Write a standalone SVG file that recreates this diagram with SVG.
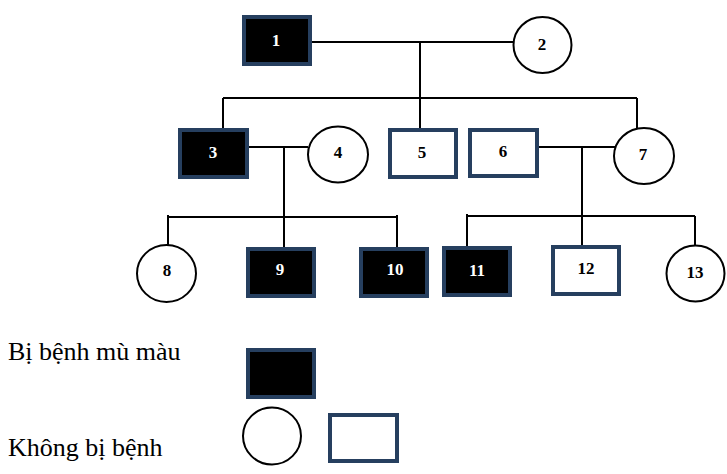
<svg xmlns="http://www.w3.org/2000/svg" width="727" height="474" viewBox="0 0 727 474">
<style>
.sq{stroke:#263f5f;stroke-width:4}
.aff{fill:#000}
.un{fill:#fff}
.ci{fill:#fff;stroke:#000;stroke-width:2}
.ln{stroke:#000;stroke-width:2;fill:none}
text{font-family:'Liberation Serif','Times New Roman','DejaVu Serif',serif}
.lb{font-weight:bold;font-size:17px;text-anchor:middle}
.w{fill:#fff}
.k{fill:#000}
.lg{font-size:26px;fill:#000}
</style>
<g id="connectors">
<path class="ln" d="M312 42H513"/>
<path class="ln" d="M420 42V98"/>
<path class="ln" d="M223 98H637"/>
<path class="ln" d="M223 98V128"/>
<path class="ln" d="M420 98V128"/>
<path class="ln" d="M637 98V129"/>
<path class="ln" d="M249 147H308"/>
<path class="ln" d="M284 147V247"/>
<path class="ln" d="M168 217H397"/>
<path class="ln" d="M168 215V245"/>
<path class="ln" d="M397 215V247"/>
<path class="ln" d="M539 147H615"/>
<path class="ln" d="M582 147V245"/>
<path class="ln" d="M466 216H695"/>
<path class="ln" d="M467 214V246"/>
<path class="ln" d="M695 216V245"/>
</g>
<g id="n1"><rect class="sq aff" x="244" y="17" width="66" height="47"/><text class="lb w" x="276" y="46">1</text></g>
<g id="n2"><ellipse class="ci" cx="542.5" cy="45" rx="29" ry="28"/><text class="lb k" x="542" y="50">2</text></g>
<g id="n3"><rect class="sq aff" x="180" y="130" width="67" height="47"/><text class="lb w" x="213" y="158">3</text></g>
<g id="n4"><ellipse class="ci" cx="338" cy="154.5" rx="30" ry="28"/><text class="lb k" x="338" y="158">4</text></g>
<g id="n5"><rect class="sq un" x="390" y="130" width="66" height="47"/><text class="lb k" x="422" y="158">5</text></g>
<g id="n6"><rect class="sq un" x="470" y="130" width="67" height="46"/><text class="lb k" x="503" y="157">6</text></g>
<g id="n7"><ellipse class="ci" cx="644" cy="156" rx="30" ry="28"/><text class="lb k" x="643" y="160">7</text></g>
<g id="n8"><ellipse class="ci" cx="166.5" cy="273.5" rx="29.5" ry="28.5"/><text class="lb k" x="167" y="276">8</text></g>
<g id="n9"><rect class="sq aff" x="248" y="249" width="66" height="47"/><text class="lb w" x="280" y="275">9</text></g>
<g id="n10"><rect class="sq aff" x="361" y="249" width="66" height="47"/><text class="lb w" x="395" y="275">10</text></g>
<g id="n11"><rect class="sq aff" x="444" y="248" width="66" height="47"/><text class="lb w" x="477" y="276">11</text></g>
<g id="n12"><rect class="sq un" x="553" y="247" width="66" height="47"/><text class="lb k" x="586" y="274">12</text></g>
<g id="n13"><ellipse class="ci" cx="695.5" cy="273.5" rx="29" ry="28"/><text class="lb k" x="695" y="278">13</text></g>
<g id="legend">
<text class="lg" x="8" y="360">Bị bệnh mù màu</text>
<text class="lg" x="8" y="456">Không bị bệnh</text>
<rect class="sq aff" x="248" y="350" width="66" height="47"/>
<ellipse class="ci" cx="272" cy="436" rx="29" ry="28.5"/>
<rect class="sq un" x="330" y="415" width="67" height="46"/>
</g>
</svg>
